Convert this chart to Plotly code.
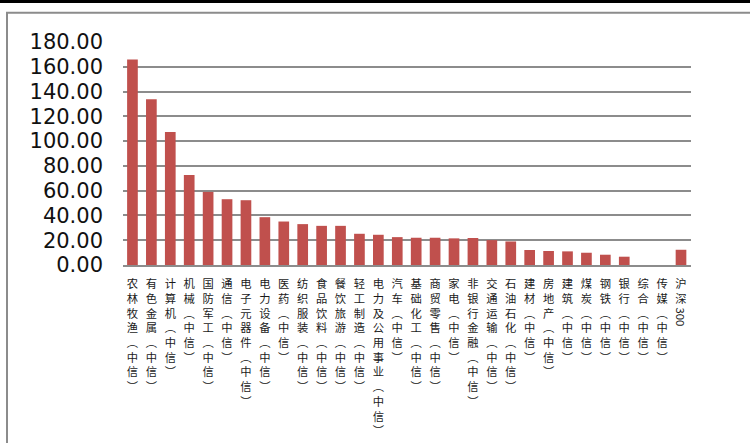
import plotly.graph_objects as go

categories = ["农林牧渔(中信)", "有色金属(中信)", "计算机(中信)", "机械(中信)", "国防军工(中信)",
              "通信(中信)", "电子元器件(中信)", "电力设备(中信)", "医药(中信)", "纺织服装(中信)",
              "食品饮料(中信)", "餐饮旅游(中信)", "轻工制造(中信)", "电力及公用事业(中信)", "汽车(中信)",
              "基础化工(中信)", "商贸零售(中信)", "家电(中信)", "非银行金融(中信)", "交通运输(中信)",
              "石油石化(中信)", "建材(中信)", "房地产(中信)", "建筑(中信)", "煤炭(中信)",
              "钢铁(中信)", "银行(中信)", "综合(中信)", "传媒(中信)", "沪深300"]
values = [165.9, 133.7, 107.3, 72.7, 59.0, 53.1, 52.3, 38.6, 35.1, 33.0,
          31.6, 31.6, 25.2, 24.4, 22.5, 22.0, 22.0, 21.5, 21.8, 20.1,
          19.0, 12.1, 11.3, 11.0, 9.9, 8.3, 6.7, 0.0, 0.0, 12.3]
y_ticks = [0, 20, 40, 60, 80, 100, 120, 140, 160, 180]


def vertical(label):
    out = []
    for ch in label:
        if ch == "(":
            out.append("\ufe35")
        elif ch == ")":
            out.append("\ufe36")
        elif ch.isdigit():
            continue
        else:
            out.append(ch)
    return "<br>".join(out)


ticktext = [vertical(c) for c in categories]

fig = go.Figure()
fig.add_trace(go.Bar(x=categories, y=values, marker=dict(color="#C0504D", line=dict(width=0))))

W, H = 750, 443
ml, mr, mt, mb = 123, 59, 42, 178
ph = H - mt - mb
pw = W - ml - mr


def py(ypix):
    return (H - mb - ypix) / ph


def px(xpix):
    return (xpix - ml) / pw


fig.update_layout(
    width=W, height=H,
    margin=dict(l=ml, r=mr, t=mt, b=mb, pad=0),
    paper_bgcolor="white", plot_bgcolor="white",
    bargap=0.435,
    showlegend=False,
    font=dict(family="Noto Sans CJK SC", color="#1a1a1a"),
    xaxis=dict(
        tickmode="array", tickvals=categories, ticktext=ticktext,
        tickangle=0, showgrid=False, ticks="",
        showline=True, linecolor="#8c8c8c", linewidth=1.5,
        tickfont=dict(family="Noto Sans CJK SC", size=11.3, color="#1a1a1a"),
        ticklabelstandoff=8, automargin=False,
    ),
    yaxis=dict(
        range=[0, 180], tickvals=y_ticks, tickformat=".2f",
        showgrid=True, gridcolor="#8c8c8c", gridwidth=1.5,
        zeroline=False, showline=False, ticks="",
        tickfont=dict(family="DejaVu Sans", size=21, color="#111111"),
        ticklabelstandoff=19, automargin=False,
    ),
    shapes=[
        dict(type="rect", xref="paper", yref="paper",
             x0=px(-5), x1=px(800), y0=py(0), y1=py(3),
             fillcolor="black", line=dict(width=0), layer="above"),
        dict(type="rect", xref="paper", yref="paper",
             x0=px(7), x1=px(800), y0=py(12.8), y1=py(500),
             fillcolor="rgba(0,0,0,0)", line=dict(color="#8c8c8c", width=2), layer="below"),
    ],
    annotations=[
        dict(x=categories[-1], y=py(328), xref="x", yref="paper", text="300",
             textangle=90, showarrow=False,
             font=dict(family="Noto Sans CJK SC", size=11.3, color="#1a1a1a")),
    ],
)

fig.write_html("out.html")
